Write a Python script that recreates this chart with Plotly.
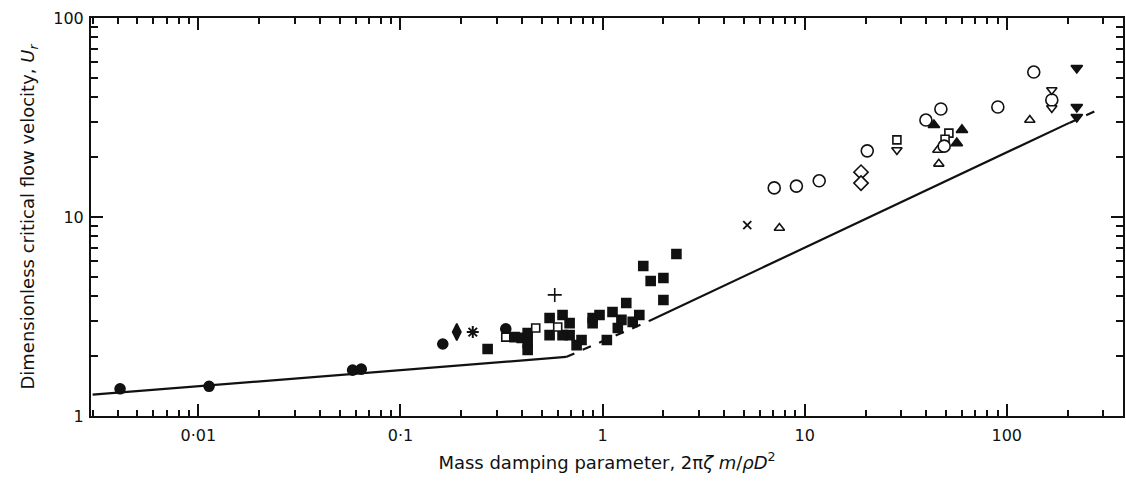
import plotly.graph_objects as go

# ---- data ----
filled_circle_x = [0.0041, 0.0113, 0.058, 0.064, 0.162, 0.332]
filled_circle_y = [1.37, 1.41, 1.70, 1.72, 2.30, 2.74]

filled_diamond_x = [0.19]
filled_diamond_y = [2.64]

star_x = [0.228]
star_y = [2.64]

plus_x = [0.58]
plus_y = [4.06]

filled_square_x = [0.27, 0.367, 0.398, 0.426, 0.426, 0.426, 0.547, 0.634, 0.547, 0.687,
                   0.687, 0.634, 0.744, 0.787, 0.893, 0.966, 1.05, 0.893, 1.12, 1.19,
                   1.24, 1.31, 1.41, 1.52, 1.59, 1.73, 2.0, 2.0, 2.32]
filled_square_y = [2.17, 2.49, 2.47, 2.61, 2.33, 2.15, 3.11, 3.22, 2.55, 2.93,
                   2.55, 2.55, 2.27, 2.41, 3.11, 3.22, 2.41, 2.93, 3.33, 2.77,
                   3.04, 3.70, 2.97, 3.22, 5.67, 4.77, 4.94, 3.83, 6.52]

open_square_x = [0.332, 0.467, 0.60, 28.6, 51.7, 49.5]
open_square_y = [2.49, 2.77, 2.80, 24.4, 26.4, 24.6]

cross_x = [5.2]
cross_y = [9.1]

open_tri_up_x = [7.5, 45.6, 46.1, 130]
open_tri_up_y = [8.8, 21.7, 18.5, 30.7]

open_circle_x = [7.07, 9.1, 11.8, 20.4, 39.8, 47.2, 49.0, 90.3, 136, 167]
open_circle_y = [14.0, 14.3, 15.2, 21.5, 30.7, 34.9, 22.7, 35.7, 53.5, 38.7]

open_diamond_x = [19.0, 19.0]
open_diamond_y = [16.8, 14.8]

open_tri_down_x = [28.6, 167, 167]
open_tri_down_y = [21.7, 43.5, 35.3]

filled_tri_up_x = [43.6, 60.0, 56.6]
filled_tri_up_y = [29.0, 27.4, 23.5]

filled_tri_down_x = [222, 222, 222]
filled_tri_down_y = [56.1, 35.7, 31.8]

# boundary line (solid / dashed parts)
line1_x = [0.003, 0.66]
line1_y = [1.28, 1.98]
dash1_x = [0.66, 1.7]
dash1_y = [1.98, 3.0]
line2_x = [1.7, 205]
line2_y = [3.0, 29.8]
dash2_x = [205, 295]
dash2_y = [29.8, 35.3]

x_tick_vals = [0.01, 0.1, 1, 10, 100]
x_tick_text = ["0·01", "0·1", "1", "10", "100"]
y_tick_vals = [1, 10, 100]
y_tick_text = ["1", "10", "100"]

x_minor = [m * 10.0 ** e for e in range(-3, 3) for m in range(2, 10)]
y_minor = [m * 10.0 ** e for e in range(0, 2) for m in range(2, 10)]

INK = "#111111"
FONT = "DejaVu Sans"

fig = go.Figure()

def add_line(x, y, dash):
    fig.add_trace(go.Scatter(x=x, y=y, mode="lines",
                             line=dict(color=INK, width=2.2, dash=dash),
                             showlegend=False, hoverinfo="skip"))

add_line(line1_x, line1_y, "solid")
add_line(dash1_x, dash1_y, "dash")
add_line(line2_x, line2_y, "solid")
add_line(dash2_x, dash2_y, "dash")

def add_pts(x, y, symbol, size, filled=True, lw=1.6):
    fig.add_trace(go.Scatter(
        x=x, y=y, mode="markers", showlegend=False,
        marker=dict(symbol=symbol, size=size,
                    color=INK if filled else "white",
                    line=dict(color=INK, width=lw))))

add_pts(filled_circle_x, filled_circle_y, "circle", 10)
add_pts(filled_diamond_x, filled_diamond_y, "diamond-tall", 12)
add_pts(star_x, star_y, "asterisk-open", 10, lw=2)
add_pts(plus_x, plus_y, "cross-thin-open", 10, lw=1.6)
add_pts(filled_square_x, filled_square_y, "square", 9)
add_pts(open_square_x, open_square_y, "square", 8, filled=False)
add_pts(cross_x, cross_y, "x-thin-open", 8, lw=1.8)
add_pts(open_tri_up_x, open_tri_up_y, "triangle-up", 9, filled=False)
add_pts(open_circle_x, open_circle_y, "circle", 12, filled=False)
add_pts(open_diamond_x, open_diamond_y, "diamond", 11, filled=False)
add_pts(open_tri_down_x, open_tri_down_y, "triangle-down", 9, filled=False)
add_pts(filled_tri_up_x, filled_tri_up_y, "triangle-up", 10)
add_pts(filled_tri_down_x, filled_tri_down_y, "triangle-down", 10)

axis_common = dict(
    showline=True, linecolor=INK, linewidth=2, mirror="ticks",
    ticks="inside", ticklen=12, tickwidth=2, tickcolor=INK,
    showgrid=False, zeroline=False,
    tickfont=dict(family=FONT, size=16, color=INK),
)

fig.update_xaxes(
    type="log", range=[-2.531, 2.575],
    tickmode="array", tickvals=x_tick_vals, ticktext=x_tick_text,
    ticklabelstandoff=4,
    minor=dict(tickmode="array", tickvals=x_minor, ticks="inside",
               ticklen=6, tickwidth=2, tickcolor=INK, showgrid=False),
    title=dict(text="Mass damping parameter, 2π<i>ζ m</i>/<i>ρD</i><sup>2</sup>",
               font=dict(family=FONT, size=18, color=INK), standoff=12),
    **axis_common)

fig.update_yaxes(
    type="log", range=[0, 2],
    tickmode="array", tickvals=y_tick_vals, ticktext=y_tick_text,
    ticklabelstandoff=2,
    minor=dict(tickmode="array", tickvals=y_minor, ticks="inside",
               ticklen=7, tickwidth=2, tickcolor=INK, showgrid=False),
    title=dict(text="Dimensionless critical flow velocity, <i>U<sub>r</sub></i>",
               font=dict(family=FONT, size=18, color=INK), standoff=14),
    **axis_common)

fig.update_layout(
    width=1126, height=495,
    margin=dict(l=91, r=1, t=18, b=79),
    paper_bgcolor="white", plot_bgcolor="white",
    showlegend=False,
)

fig.write_html("out.html")
